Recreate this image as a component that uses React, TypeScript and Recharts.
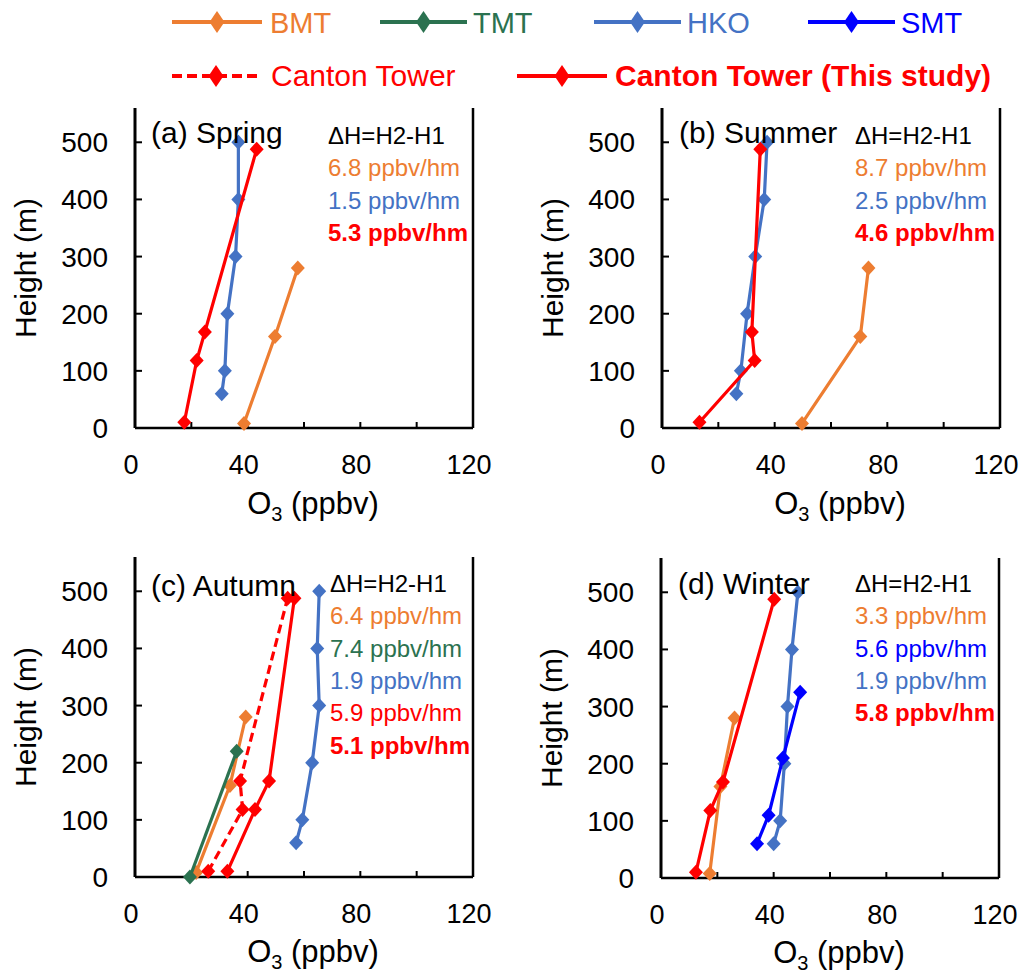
import React from "react";
import { ScatterChart, Scatter, XAxis, YAxis, ReferenceLine } from "recharts";

// station heights (m)
const bmtHeights = [8, 160, 280];
const tmtHeights = [0, 220];
const hkoHeights = [60, 100, 200, 300, 400, 500];
const smtHeights = [60, 110, 210, 325];
const cantonHeights = [10, 118, 168, 488];

// O3 (ppbv)
const springBMT = [38.7, 49.7, 57.8];
const springHKO = [30.8, 31.9, 32.8, 35.7, 36.7, 36.7];
const springStudy = [17.5, 21.9, 24.8, 43.2];

const summerBMT = [49.7, 70.4, 73.3];
const summerHKO = [26.4, 28.0, 30.2, 33.1, 36.3, 37.3];
const summerStudy = [13.3, 32.9, 31.9, 34.9];

const autumnBMT = [21.7, 33.7, 39.3];
const autumnTMT = [19.5, 36.1];
const autumnHKO = [57.2, 59.4, 62.9, 65.4, 64.7, 65.4];
const autumnCanton = [26.0, 38.2, 37.3, 54.2];
const autumnStudy = [32.8, 42.6, 47.6, 56.6];

const winterBMT = [17.3, 21.1, 26.1];
const winterHKO = [40.0, 42.3, 43.8, 44.9, 46.5, 48.6];
const winterSMT = [34.1, 38.2, 43.3, 49.4];
const winterStudy = [12.4, 17.5, 22.0, 40.2];

const xTicks = [0, 20, 40, 60, 80, 100, 120];
const yTicks = [0, 100, 200, 300, 400, 500];

const ORANGE = "#ED7D31";
const GREEN = "#2B7250";
const HKO_BLUE = "#4472C4";
const BLUE = "#0000FF";
const RED = "#FF0000";

type Series = { name: string; color: string; o3: number[]; h: number[]; dashed?: boolean };

const pts = (o3: number[], h: number[]) => o3.map((v, i) => ({ o3: v, h: h[i] }));

const diamond = (color: string) => (props: any) => {
  const { cx, cy } = props;
  if (cx == null || cy == null) return null;
  return (
    <polygon
      points={`${cx},${cy - 7.5} ${cx + 7},${cy} ${cx},${cy + 7.5} ${cx - 7},${cy}`}
      fill={color}
    />
  );
};

const panels: { left: number; top: number; series: Series[] }[] = [
  {
    left: 0,
    top: 90,
    series: [
      { name: "BMT", color: ORANGE, o3: springBMT, h: bmtHeights },
      { name: "HKO", color: HKO_BLUE, o3: springHKO, h: hkoHeights },
      { name: "Study", color: RED, o3: springStudy, h: cantonHeights },
    ],
  },
  {
    left: 527,
    top: 90,
    series: [
      { name: "BMT", color: ORANGE, o3: summerBMT, h: bmtHeights },
      { name: "HKO", color: HKO_BLUE, o3: summerHKO, h: hkoHeights },
      { name: "Study", color: RED, o3: summerStudy, h: cantonHeights },
    ],
  },
  {
    left: 0,
    top: 539,
    series: [
      { name: "BMT", color: ORANGE, o3: autumnBMT, h: bmtHeights },
      { name: "TMT", color: GREEN, o3: autumnTMT, h: tmtHeights },
      { name: "HKO", color: HKO_BLUE, o3: autumnHKO, h: hkoHeights },
      { name: "Canton", color: RED, o3: autumnCanton, h: cantonHeights, dashed: true },
      { name: "Study", color: RED, o3: autumnStudy, h: cantonHeights },
    ],
  },
  {
    left: 526,
    top: 540,
    series: [
      { name: "BMT", color: ORANGE, o3: winterBMT, h: bmtHeights },
      { name: "HKO", color: HKO_BLUE, o3: winterHKO, h: hkoHeights },
      { name: "SMT", color: BLUE, o3: winterSMT, h: smtHeights },
      { name: "Study", color: RED, o3: winterStudy, h: cantonHeights },
    ],
  },
];

// annotation texts: [text, color, bold]
const notes: { x: number; y0: number; lines: [string, string, boolean][] }[] = [
  {
    x: 328,
    y0: 144,
    lines: [
      ["ΔH=H2-H1", "#000", false],
      ["6.8 ppbv/hm", ORANGE, false],
      ["1.5 ppbv/hm", HKO_BLUE, false],
      ["5.3 ppbv/hm", RED, true],
    ],
  },
  {
    x: 855,
    y0: 144,
    lines: [
      ["ΔH=H2-H1", "#000", false],
      ["8.7 ppbv/hm", ORANGE, false],
      ["2.5 ppbv/hm", HKO_BLUE, false],
      ["4.6 ppbv/hm", RED, true],
    ],
  },
  {
    x: 330,
    y0: 592,
    lines: [
      ["ΔH=H2-H1", "#000", false],
      ["6.4 ppbv/hm", ORANGE, false],
      ["7.4 ppbv/hm", GREEN, false],
      ["1.9 ppbv/hm", HKO_BLUE, false],
      ["5.9 ppbv/hm", RED, false],
      ["5.1 ppbv/hm", RED, true],
    ],
  },
  {
    x: 855,
    y0: 592,
    lines: [
      ["ΔH=H2-H1", "#000", false],
      ["3.3 ppbv/hm", ORANGE, false],
      ["5.6 ppbv/hm", BLUE, false],
      ["1.9 ppbv/hm", HKO_BLUE, false],
      ["5.8 ppbv/hm", RED, true],
    ],
  },
];

const titles = [
  { text: "(a) Spring", x: 151, y: 143 },
  { text: "(b) Summer", x: 679, y: 143 },
  { text: "(c) Autumn", x: 151, y: 596 },
  { text: "(d) Winter", x: 678, y: 594 },
];

const legendTop = [
  { name: "BMT", color: ORANGE, x1: 172, x2: 262, tx: 270 },
  { name: "TMT", color: GREEN, x1: 380, x2: 467, tx: 473 },
  { name: "HKO", color: HKO_BLUE, x1: 594, x2: 681, tx: 687 },
  { name: "SMT", color: BLUE, x1: 808, x2: 895, tx: 901 },
];

function Panel({ left, top, series }: { left: number; top: number; series: Series[] }) {
  return (
    <div style={{ position: "absolute", left, top }}>
      <ScatterChart width={495} height={410} margin={{ top: 18, right: 22, bottom: 22, left: 55 }}>
        <XAxis
          type="number"
          dataKey="o3"
          domain={[0, 120]}
          ticks={xTicks}
          interval={0}
          tickFormatter={(v) => (v % 40 === 0 ? String(v) : "")}
          height={50}
          tickSize={-6}
          tickMargin={33}
          axisLine={{ stroke: "#000", strokeWidth: 2.5 }}
          tickLine={{ stroke: "#000", strokeWidth: 2 }}
          tick={{ fill: "#000", fontSize: 27, dx: -4 }}
        />
        <YAxis
          type="number"
          dataKey="h"
          domain={[0, 560]}
          ticks={yTicks}
          interval={0}
          width={80}
          tickSize={-7}
          tickMargin={34}
          axisLine={{ stroke: "#000", strokeWidth: 3 }}
          tickLine={{ stroke: "#000", strokeWidth: 2 }}
          tick={{ fill: "#000", fontSize: 28 }}
        />
        <ReferenceLine x={120} stroke="#000" strokeWidth={2.5} />
        {series.map((s) => (
          <Scatter
            key={s.name}
            data={pts(s.o3, s.h)}
            fill={s.color}
            line={{ stroke: s.color, strokeWidth: 3.2, strokeDasharray: s.dashed ? "9 5" : undefined }}
            shape={diamond(s.color)}
            isAnimationActive={false}
          />
        ))}
      </ScatterChart>
    </div>
  );
}

const legendDiamond = (cx: number, cy: number, color: string) => (
  <polygon points={`${cx},${cy - 11} ${cx + 7.5},${cy} ${cx},${cy + 11} ${cx - 7.5},${cy}`} fill={color} />
);

export default function App() {
  return (
    <div
      style={{
        position: "absolute",
        left: 0,
        top: 0,
        width: 1023,
        height: 975,
        overflow: "hidden",
        background: "#fff",
        fontFamily: "'Liberation Sans', Arial, sans-serif",
      }}
    >
      {panels.map((p, i) => (
        <Panel key={i} {...p} />
      ))}
      <svg
        width={1023}
        height={975}
        style={{ position: "absolute", left: 0, top: 0, pointerEvents: "none" }}
      >
        {/* legend */}
        {legendTop.map((l) => (
          <g key={l.name}>
            <line x1={l.x1} x2={l.x2} y1={22} y2={22} stroke={l.color} strokeWidth={4} />
            {legendDiamond((l.x1 + l.x2) / 2, 22, l.color)}
            <text x={l.tx} y={33} fontSize={29} fill={l.color}>
              {l.name}
            </text>
          </g>
        ))}
        <line x1={172} x2={260} y1={76} y2={76} stroke={RED} strokeWidth={4} strokeDasharray="10 5" />
        {legendDiamond(216, 76, RED)}
        <text x={271} y={86} fontSize={30} fill={RED}>
          Canton Tower
        </text>
        <line x1={517} x2={607} y1={76} y2={76} stroke={RED} strokeWidth={4} />
        {legendDiamond(562, 76, RED)}
        <text x={615} y={86} fontSize={30} fontWeight="bold" fill={RED}>
          Canton Tower (This study)
        </text>

        {/* panel titles */}
        {titles.map((t) => (
          <text key={t.text} x={t.x} y={t.y} fontSize={30} fill="#000">
            {t.text}
          </text>
        ))}

        {/* gradient notes */}
        {notes.map((n, i) =>
          n.lines.map(([txt, color, bold], j) => (
            <text
              key={`${i}-${j}`}
              x={n.x}
              y={n.y0 + j * 32.3}
              fontSize={24}
              fontWeight={bold ? "bold" : "normal"}
              fill={color}
            >
              {txt}
            </text>
          ))
        )}

        {/* axis titles */}
        {[
          [36, 268],
          [563, 268],
          [36, 717],
          [562, 718],
        ].map(([x, y], i) => (
          <text key={`yt${i}`} x={x} y={y} fontSize={30} textAnchor="middle" transform={`rotate(-90 ${x} ${y})`} fill="#000">
            Height (m)
          </text>
        ))}
        {[
          [313, 514],
          [840, 514],
          [313, 962],
          [839, 963],
        ].map(([x, y], i) => (
          <text key={`xt${i}`} x={x} y={y} fontSize={31} textAnchor="middle" fill="#000">
            O<tspan fontSize={20} dy={7}>3</tspan>
            <tspan dy={-7}> (ppbv)</tspan>
          </text>
        ))}
      </svg>
    </div>
  );
}
